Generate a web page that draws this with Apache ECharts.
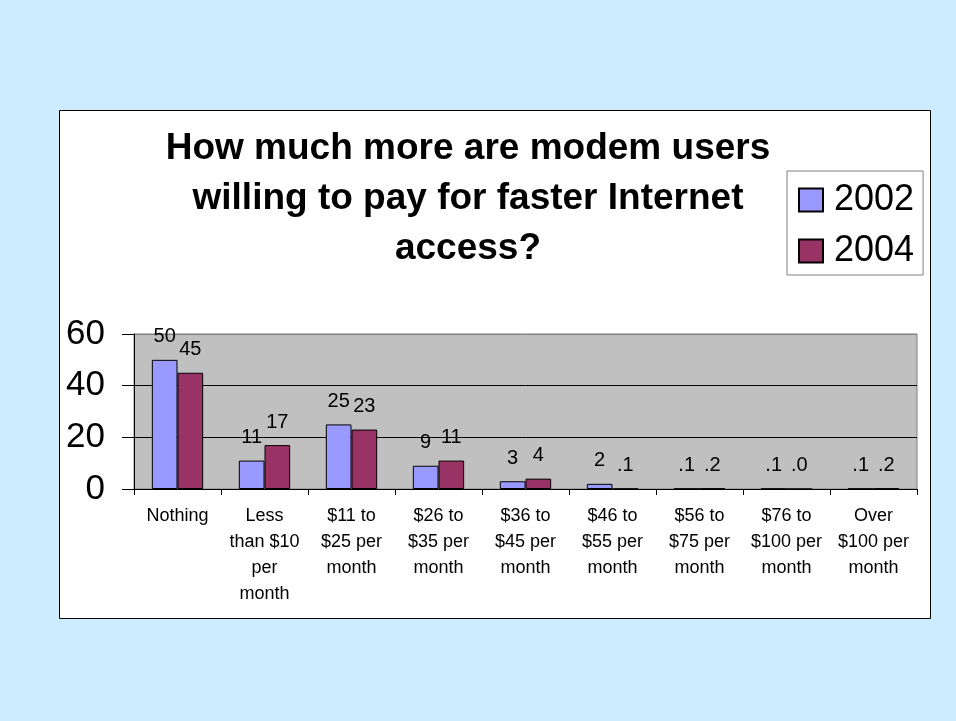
<!DOCTYPE html>
<html><head><meta charset="utf-8">
<script src="https://cdn.jsdelivr.net/npm/echarts@6/dist/echarts.min.js"></script>
<style>html,body{margin:0;padding:0;background:#CCECFF;}#c{width:956px;height:721px;}</style>
</head><body><div id="c"></div>
<script>
const categories = ["Nothing","Less\nthan $10\nper\nmonth","$11 to\n$25 per\nmonth","$26 to\n$35 per\nmonth","$36 to\n$45 per\nmonth","$46 to\n$55 per\nmonth","$56 to\n$75 per\nmonth","$76 to\n$100 per\nmonth","Over\n$100 per\nmonth"];
const values2002 = [50, 11, 25, 9, 3, 2, 0.1, 0.1, 0.1];
const values2004 = [45, 17, 23, 11, 4, 0.1, 0.2, 0.0, 0.2];
const seriesNames = ["2002", "2004"];
const yTicks = [0, 20, 40, 60];
const titleText = "How much more are modem users\nwilling to pay for faster Internet\naccess?";

const fmt = p => {
  const v = p.value;
  if (v < 1) return '.' + Math.round(v * 10);
  return String(v);
};
const font = '"Liberation Sans", Arial, sans-serif';
const chart = echarts.init(document.getElementById('c'));
chart.setOption({
  backgroundColor: '#CCECFF',
  animation: false,
  graphic: [{
    type: 'rect', z: -10, silent: true,
    shape: { x: 59.5, y: 110.5, width: 871, height: 508 },
    style: { fill: '#FFFFFF', stroke: '#000000', lineWidth: 1 }
  }],
  title: {
    text: titleText,
    left: 463, top: 119, textAlign: 'center',
    textStyle: { fontFamily: font, fontSize: 37, fontWeight: 'bold', color: '#000', lineHeight: 50 }
  },
  legend: {
    orient: 'vertical',
    left: 787, top: 171,
    padding: [11, 9, 6, 11],
    itemGap: 15,
    itemWidth: 24, itemHeight: 23,
    borderColor: '#808080', borderWidth: 1,
    backgroundColor: '#FFFFFF',
    icon: 'rect',
    textStyle: { fontFamily: font, fontSize: 36, lineHeight: 36, color: '#000', padding: [0, 0, 0, 6] },
    data: seriesNames
  },
  grid: {
    left: 134, right: 39, top: 334, bottom: 232,
    show: true, backgroundColor: '#C0C0C0', borderColor: '#808080', borderWidth: 1
  },
  xAxis: {
    type: 'category',
    data: categories,
    axisLine: { lineStyle: { color: '#000', width: 1 } },
    axisTick: { show: true, length: 6, lineStyle: { color: '#000' } },
    axisLabel: { interval: 0, margin: 14, fontFamily: font, fontSize: 18, color: '#000', lineHeight: 26 }
  },
  yAxis: {
    type: 'value', min: yTicks[0], max: yTicks[yTicks.length - 1], interval: 20,
    axisLine: { show: true, lineStyle: { color: '#000', width: 1 } },
    axisTick: { show: true, length: 12, lineStyle: { color: '#000' } },
    axisLabel: { margin: 29, fontFamily: font, fontSize: 35, color: '#000' },
    splitLine: { show: true, lineStyle: { color: ['#000', '#000', '#000', '#808080'], width: 1 } }
  },
  series: [
    {
      name: seriesNames[0], type: 'bar', data: values2002,
      barGap: '0%', barCategoryGap: '41%',
      itemStyle: { color: '#9999FF', borderColor: '#000', borderWidth: 1 },
      label: { show: true, position: 'top', distance: 13, formatter: fmt, fontFamily: font, fontSize: 20, color: '#000' }
    },
    {
      name: seriesNames[1], type: 'bar', data: values2004,
      itemStyle: { color: '#993366', borderColor: '#000', borderWidth: 1 },
      label: { show: true, position: 'top', distance: 13, formatter: fmt, fontFamily: font, fontSize: 20, color: '#000' }
    }
  ]
});
</script></body></html>
